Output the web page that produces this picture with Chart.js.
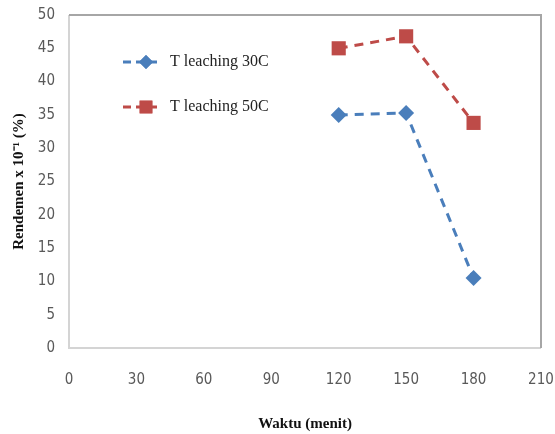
<!DOCTYPE html>
<html>
<head>
<meta charset="utf-8">
<script src="https://cdn.jsdelivr.net/npm/chart.js@4"></script>
<style>
  html, body { margin: 0; padding: 0; background: #fff; }
  #wrap { width: 555px; height: 434px; }
</style>
</head>
<body>
<div id="wrap"><canvas id="grafik" width="555" height="434"></canvas></div>
<script>
// data
const waktu = [120, 150, 180];
const suhu30 = [35, 35.3, 10.5];
const suhu50 = [45, 46.8, 33.8];
const namaSeri = ["T leaching 30C", "T leaching 50C"];
const tickX = [0, 30, 60, 90, 120, 150, 180, 210];
const tickY = [0, 5, 10, 15, 20, 25, 30, 35, 40, 45, 50];

const biru = "#4a7ebb";
const merah = "#be4b48";

function titik(xs, ys) {
    return xs.map((x, i) => ({ x: x, y: ys[i] }));
}

// kotak plot (kiri/bawah lebih terang, atas/kanan lebih gelap)
const bingkai = {
    id: "bingkai",
    beforeDatasetsDraw(chart) {
        const a = chart.chartArea;
        const c = chart.ctx;
        c.save();
        c.lineWidth = 2;
        c.strokeStyle = "#d4d4d4";
        c.beginPath();
        c.moveTo(a.left, a.top); c.lineTo(a.left, a.bottom); c.lineTo(a.right, a.bottom);
        c.stroke();
        c.strokeStyle = "#a6a6a6";
        c.beginPath();
        c.moveTo(a.left, a.top); c.lineTo(a.right, a.top); c.lineTo(a.right, a.bottom);
        c.stroke();
        c.restore();
    }
};

// legenda di dalam area plot
const legenda = {
    id: "legenda",
    afterDraw(chart) {
        const c = chart.ctx;
        const baris = [
            { y: 62, warna: biru, bentuk: "rectRot", r: 7 },
            { y: 107, warna: merah, bentuk: "rect", r: 9 }
        ];
        c.save();
        baris.forEach((b, i) => {
            c.strokeStyle = b.warna;
            c.lineWidth = 3;
            c.setLineDash([8, 5]);
            c.beginPath();
            c.moveTo(123, b.y); c.lineTo(160, b.y);
            c.stroke();
            c.setLineDash([]);
            c.fillStyle = b.warna;
            Chart.helpers.drawPoint(c, { pointStyle: b.bentuk, radius: b.r, borderWidth: 0 }, 146, b.y);
            c.fill();
            c.fillStyle = "#222";
            c.font = "16px 'Liberation Serif', serif";
            c.textBaseline = "middle";
            c.fillText(namaSeri[i], 170, b.y);
        });
        c.restore();
    }
};

const fontTick = { family: "'DejaVu Sans Condensed', 'Liberation Sans', sans-serif", size: 15 };

new Chart(document.getElementById("grafik"), {
    type: "scatter",
    data: {
        datasets: [
            {
                label: namaSeri[0],
                data: titik(waktu, suhu30),
                showLine: true,
                borderColor: biru,
                backgroundColor: biru,
                borderWidth: 3,
                borderDash: [9, 7],
                pointStyle: "rectRot",
                pointRadius: 8,
                pointBorderWidth: 0
            },
            {
                label: namaSeri[1],
                data: titik(waktu, suhu50),
                showLine: true,
                borderColor: merah,
                backgroundColor: merah,
                borderWidth: 3,
                borderDash: [9, 7],
                pointStyle: "rect",
                pointRadius: 10,
                pointBorderWidth: 0
            }
        ]
    },
    options: {
        responsive: false,
        animation: false,
        layout: { padding: { top: 15, right: 14, left: 0, bottom: 0 } },
        plugins: { legend: { display: false }, tooltip: { enabled: false } },
        scales: {
            x: {
                type: "linear",
                min: 0, max: 210,
                afterBuildTicks: s => { s.ticks = tickX.map(v => ({ value: v })); },
                afterFit: s => { s.height = 86; s.paddingLeft = 0; s.paddingRight = 0; },
                grid: { display: false, drawTicks: false },
                border: { display: false },
                ticks: { color: "#595959", font: fontTick, padding: 23 },
                title: {
                    display: true,
                    text: "Waktu (menit)",
                    color: "#111",
                    font: { family: "'Liberation Serif', serif", size: 15, weight: "bold" },
                    padding: { top: 0, bottom: 1 }
                }
            },
            y: {
                min: 0, max: 50,
                afterBuildTicks: s => { s.ticks = tickY.map(v => ({ value: v })); },
                afterFit: s => { s.width = 69; s.paddingTop = 0; s.paddingBottom = 0; },
                grid: { display: false, drawTicks: false },
                border: { display: false },
                ticks: { color: "#595959", font: fontTick, padding: 14 },
                title: {
                    display: true,
                    text: "Rendemen x 10⁻¹ (%)",
                    color: "#111",
                    font: { family: "'Liberation Serif', serif", size: 15, weight: "bold" },
                    padding: { top: 10, bottom: 0 }
                }
            }
        }
    },
    plugins: [bingkai, legenda]
});
</script>
</body>
</html>
